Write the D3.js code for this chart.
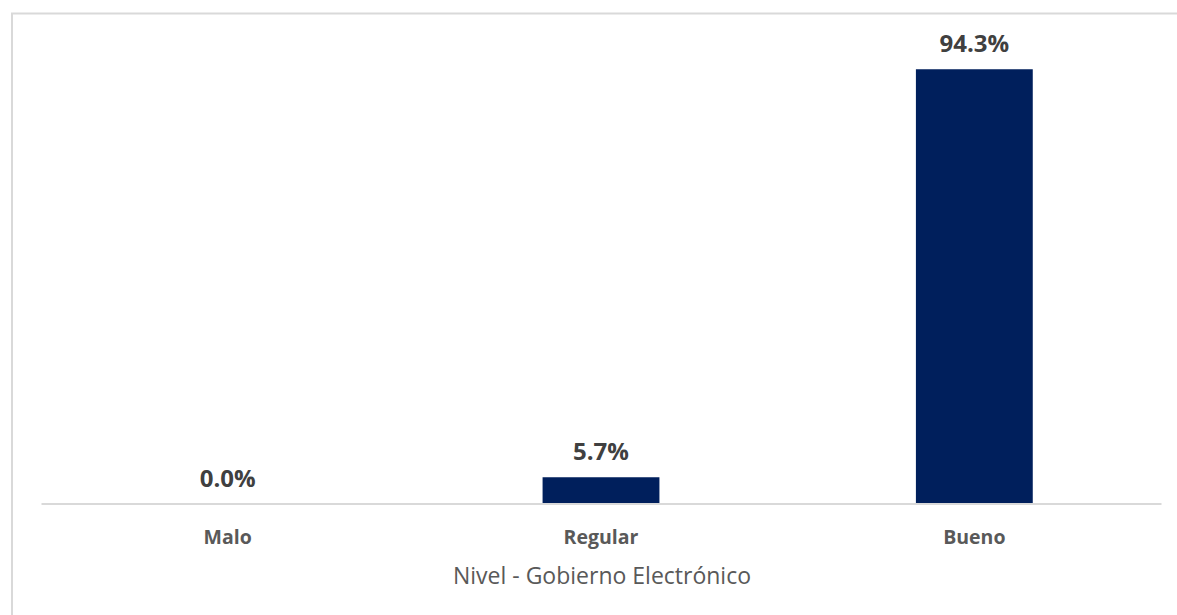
<!DOCTYPE html>
<html>
<head>
<meta charset="utf-8">
<script src="https://cdn.jsdelivr.net/npm/d3@7/dist/d3.min.js"></script>
<style>
	body { margin: 0; background: #fff; }
	text { font-family: "Open Sans", "Noto Sans", sans-serif; }
</style>
</head>
<body>
<script>
var categories = ["Malo", "Regular", "Bueno"];
var values = [0.0, 5.7, 94.3];
var valueLabels = ["0.0%", "5.7%", "94.3%"];
var axisTitle = "Nivel - Gobierno Electrónico";

var w = 1177;
var h = 615;

var svg = d3.select("body")
	.append("svg")
	.attr("width", w)
	.attr("height", h);

// chart frame (right and bottom edges fall outside the picture)
svg.append("rect")
	.attr("x", 12)
	.attr("y", 13.5)
	.attr("width", 1200)
	.attr("height", 700)
	.attr("fill", "#fff")
	.attr("stroke", "#d9d9d9")
	.attr("stroke-width", 2);

var xScale = d3.scaleBand()
	.domain(categories)
	.range([41, 1161])
	.paddingInner(0.687)
	.paddingOuter(0.687 / 2);

var yScale = d3.scaleLinear()
	.domain([0, 100])
	.range([503.5, 43]);

svg.selectAll("rect.bar")
	.data(values)
	.enter()
	.append("rect")
	.attr("class", "bar")
	.attr("x", function(d, i){ return xScale(categories[i]); })
	.attr("y", function(d){ return yScale(d); })
	.attr("width", xScale.bandwidth())
	.attr("height", function(d){ return yScale(0) - yScale(d); })
	.attr("fill", "#001f5c");

// baseline
var xAxis = d3.axisBottom(xScale).tickSize(0).tickPadding(0);
var gx = svg.append("g")
	.attr("transform", "translate(0," + yScale(0) + ")")
	.call(xAxis);
gx.select(".domain")
	.attr("stroke", "#d9d9d9")
	.attr("stroke-width", 2);
gx.selectAll(".tick text")
	.attr("y", 40.5)
	.attr("dy", 0)
	.style("font-size", "19.5px")
	.style("font-weight", "bold")
	.style("font-family", "'Open Sans', sans-serif")
	.attr("fill", "#595959");

svg.selectAll("text.val")
	.data(values)
	.enter()
	.append("text")
	.attr("class", "val")
	.attr("x", function(d, i){ return xScale(categories[i]) + xScale.bandwidth() / 2; })
	.attr("y", function(d){ return yScale(d) - 17; })
	.attr("text-anchor", "middle")
	.style("font-size", "24px")
	.style("font-weight", "bold")
	.attr("fill", "#404040")
	.text(function(d, i){ return valueLabels[i]; });

svg.append("text")
	.attr("x", 602)
	.attr("y", 584)
	.attr("text-anchor", "middle")
	.style("font-size", "23px")
	.attr("fill", "#595959")
	.text(axisTitle);
</script>
</body>
</html>
